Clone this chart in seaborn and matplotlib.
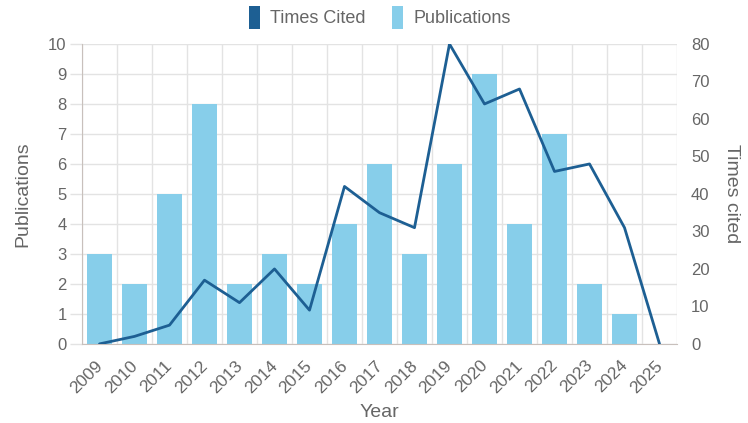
import numpy as np
import pandas as pd
import seaborn as sns
from matplotlib import pyplot as plt
from matplotlib.patches import Patch
from matplotlib.transforms import ScaledTranslation

years = [str(y) for y in range(2009, 2026)]
publications = [3, 2, 5, 8, 2, 3, 2, 4, 6, 3, 6, 9, 4, 7, 2, 1, 0]
times_cited = [0, 2, 5, 17, 11, 20, 9, 42, 35, 31, 80, 64, 68, 46, 48, 31, 0]

BAR_COLOR = '#87ceea'
LINE_COLOR = '#1d5f93'
TEXT_COLOR = '#666666'
GRID_COLOR = '#e3e3e3'
AXIS_COLOR = '#c8c0bc'

sns.set_style("white")
plt.rcParams['font.family'] = ['Liberation Sans', 'DejaVu Sans']

df = pd.DataFrame({'Year': years, 'Publications': publications, 'Times Cited': times_cited})

fig = plt.figure(figsize=(7.48, 4.23), dpi=100)
ax1 = fig.add_axes([0.1096, 0.187, 0.7955, 0.709])
ax2 = ax1.twinx()

sns.barplot(data=df, x='Year', y='Publications', ax=ax1, color=BAR_COLOR,
            width=0.72, saturation=1, linewidth=0, edgecolor='none', zorder=2)
ax1.set_zorder(1)
ax2.set_zorder(2)
ax2.patch.set_visible(False)

x = np.arange(len(years))
sns.lineplot(x=x, y=df['Times Cited'], ax=ax2, color=LINE_COLOR, linewidth=2.0)

n = len(years)
ax1.set_xlim(-0.5, n - 0.5)
ax1.set_ylim(0, 10)
ax2.set_ylim(0, 80)
ax1.set_yticks(range(0, 11))
ax2.set_yticks(range(0, 81, 10))

# grid: horizontal at integers, vertical at category boundaries
ax1.set_xticks(np.arange(-0.5, n, 1), minor=True)
ax1.grid(True, axis='y', which='major', color=GRID_COLOR, linewidth=1, zorder=0)
ax1.grid(True, axis='x', which='minor', color=GRID_COLOR, linewidth=1, zorder=0)
ax1.set_axisbelow(True)

ax1.tick_params(axis='x', which='major', length=0, pad=10)
ax1.tick_params(axis='x', which='minor', length=7, color=AXIS_COLOR, width=1)
ax1.tick_params(axis='y', length=9, color=GRID_COLOR, width=1, labelsize=12,
                labelcolor=TEXT_COLOR, pad=2)
ax2.tick_params(axis='y', length=0, labelsize=12, labelcolor=TEXT_COLOR, pad=10)

ax1.set_xticks(x)
ax1.set_xticklabels(years, rotation=45, ha='right', rotation_mode='anchor',
                    fontsize=12.5, color=TEXT_COLOR)
# nudge the rotated year labels a little to the left
shift = ScaledTranslation(-5 / 100, 0, fig.dpi_scale_trans)
for lbl in ax1.get_xticklabels():
    lbl.set_transform(lbl.get_transform() + shift)

for ax in (ax1, ax2):
    for side in ('top', 'right', 'left', 'bottom'):
        ax.spines[side].set_visible(False)
ax1.spines['left'].set_visible(True)
ax1.spines['left'].set_color(AXIS_COLOR)
ax1.spines['bottom'].set_visible(True)
ax1.spines['bottom'].set_color(AXIS_COLOR)

ax1.set_xlabel('Year', fontsize=14, color=TEXT_COLOR, labelpad=6)
ax1.set_ylabel('Publications', fontsize=14, color=TEXT_COLOR, labelpad=12)
ax2.set_ylabel('Times cited', fontsize=14, color=TEXT_COLOR, rotation=270, labelpad=22)

handles = [Patch(facecolor=LINE_COLOR, edgecolor='none'),
           Patch(facecolor=BAR_COLOR, edgecolor='none')]
fig.legend(handles, ['Times Cited', 'Publications'], loc='upper center',
           bbox_to_anchor=(0.508, 1.025), ncol=2, frameon=False, fontsize=13,
           handlelength=0.6, handleheight=1.6, handletextpad=0.6,
           columnspacing=1.45, labelcolor=TEXT_COLOR)

fig.savefig('out.png', dpi=100)
